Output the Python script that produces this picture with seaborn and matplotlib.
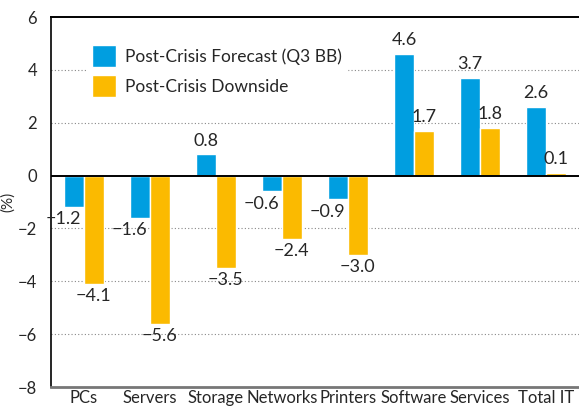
import pandas as pd
import seaborn as sns
import matplotlib.pyplot as plt

categories = ["PCs", "Servers", "Storage", "Networks", "Printers", "Software", "Services", "Total IT"]
forecast = [-1.2, -1.6, 0.8, -0.6, -0.9, 4.6, 3.7, 2.6]
downside = [-4.1, -5.6, -3.5, -2.4, -3.0, 1.7, 1.8, 0.1]
series_names = ["Post-Crisis Forecast (Q3 BB)", "Post-Crisis Downside"]
colors = ["#009EE0", "#FBBA00"]

df = pd.DataFrame({
    "category": categories * 2,
    "value": forecast + downside,
    "series": [series_names[0]] * len(categories) + [series_names[1]] * len(categories),
})

sns.set_style("white")
plt.rcParams["font.family"] = ["Lato", "DejaVu Sans"]

fig = plt.figure(figsize=(5.79, 4.07), dpi=100)
ax = fig.add_axes([51 / 579, 20 / 407, 528 / 579, 370 / 407])

sns.barplot(data=df, x="category", y="value", hue="series", palette=colors,
            width=0.6, saturation=1, ax=ax, zorder=3)

ax.set_ylim(-8, 6)
ax.set_xlim(-0.5, 7.5)
ax.set_yticks(range(-8, 7, 2))
ax.set_yticklabels([str(t).replace("-", "\u2212") for t in range(-8, 7, 2)])
ax.set_xlabel("")
ax.set_ylabel("(%)", fontsize=11, labelpad=2)
ax.tick_params(axis="y", length=8, width=0.8, color="#777777", labelsize=12, pad=2)
ax.tick_params(axis="x", length=0, labelsize=12, pad=2)

for t in [-6, -4, -2, 2, 4]:
    ax.axhline(t, color="#888888", lw=0.8, ls=(0, (1, 2)), zorder=1)
ax.axhline(0, color="black", lw=1.4, zorder=4)

ax.spines["right"].set_visible(False)
ax.spines["top"].set_color("black")
ax.spines["top"].set_linewidth(1.4)
ax.spines["left"].set_color("black")
ax.spines["left"].set_linewidth(1.2)
ax.spines["bottom"].set_color("#777777")
ax.spines["bottom"].set_linewidth(2)

# value labels
for cont, vals in zip(ax.containers, [forecast, downside]):
    for bar, v in zip(cont, vals):
        x = bar.get_x() + bar.get_width() / 2
        txt = f"{v:.1f}".replace("-", "\u2212")
        if v >= 0:
            ax.annotate(txt, (x, v), xytext=(0, 4), textcoords="offset points",
                        ha="center", va="bottom", fontsize=13)
        else:
            dx = -8 if cont is ax.containers[0] else 0
            ax.annotate(txt, (x, v), xytext=(dx, -3), textcoords="offset points",
                        ha="center", va="top", fontsize=13)

leg = ax.legend(loc="upper left", bbox_to_anchor=(0.052, 0.962), frameon=True,
                fontsize=12.5, handlelength=1.35, handleheight=1.6, handletextpad=0.55,
                labelspacing=0.45, borderpad=0.3, edgecolor="white", fancybox=False)
leg.get_frame().set_facecolor("white")
leg.get_frame().set_alpha(1)
leg.set_zorder(5)

fig.savefig("out.png", dpi=100)
